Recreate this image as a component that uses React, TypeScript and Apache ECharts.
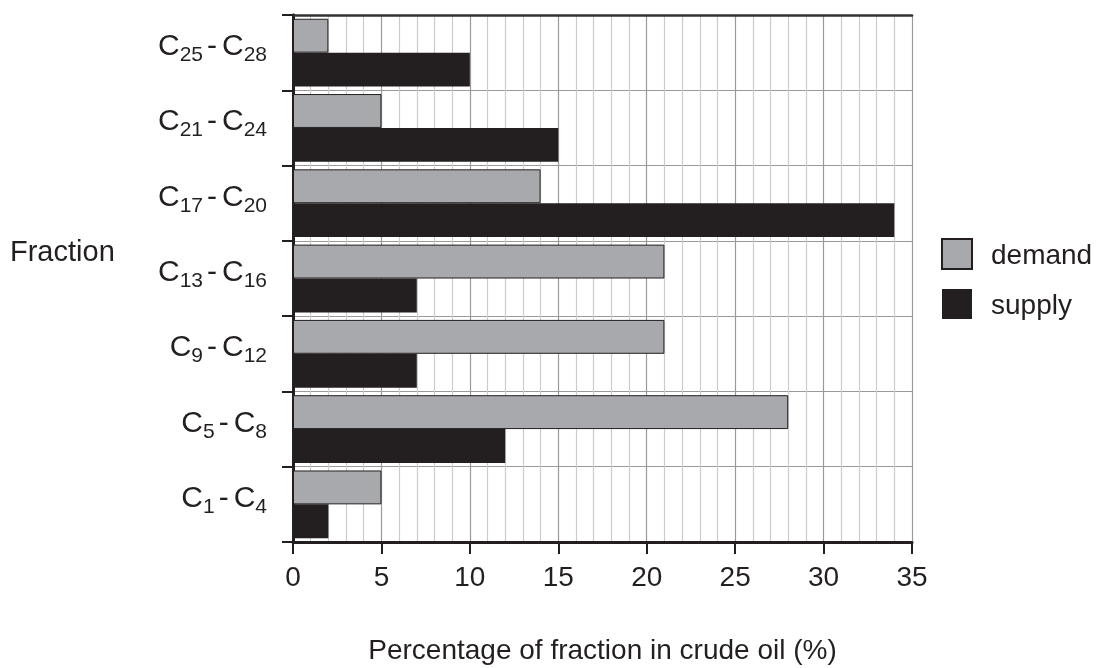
import React, { useEffect, useRef } from "react";
import * as echarts from "echarts";

const categories = ["C1-C4", "C5-C8", "C9-C12", "C13-C16", "C17-C20", "C21-C24", "C25-C28"];
const demand = [5, 28, 21, 21, 14, 5, 2];
const supply = [2, 12, 7, 7, 34, 15, 10];
const xMin = 0;
const xMax = 35;
const xInterval = 5;
const xTitle = "Percentage of fraction in crude oil (%)";
const yTitle = "Fraction";

const INK = "#231f20";
const GREY = "#a7a9ac";
const FONT = "'Liberation Sans', Arial, sans-serif";

export default function App() {
  const ref = useRef<HTMLDivElement>(null);
  useEffect(() => {
    if (!ref.current) return;
    const chart = echarts.init(ref.current, null, { renderer: "svg" });
    chart.setOption({
      animation: false,
      textStyle: { fontFamily: FONT },
      grid: { left: 293, right: 187, top: 15, bottom: 123 },
      legend: {
        orient: "vertical",
        left: 941,
        top: 238,
        itemWidth: 30,
        itemHeight: 30,
        itemGap: 19,
        padding: 0,
        icon: "rect",
        data: ["demand", "supply"],
        textStyle: { fontSize: 28, color: INK, fontFamily: FONT, padding: [0, 0, 0, 14] },
      },
      xAxis: [
        {
          type: "value",
          min: xMin,
          max: xMax,
          interval: xInterval,
          name: xTitle,
          nameLocation: "middle",
          nameGap: 93,
          nameTextStyle: { fontSize: 28, color: INK, fontFamily: FONT },
          axisLine: { show: true, lineStyle: { color: INK, width: 3 } },
          axisTick: { show: true, length: 12, lineStyle: { color: INK, width: 2 } },
          axisLabel: { fontSize: 28, color: INK, margin: 20, fontFamily: FONT },
          splitLine: { show: true, lineStyle: { color: "#9a9a9a", width: 1.2 } },
          minorTick: { show: false, splitNumber: 5 },
          minorSplitLine: { show: true, lineStyle: { color: "#cccccc", width: 1.2 } },
        },
        {
          type: "value",
          position: "top",
          min: xMin,
          max: xMax,
          axisLine: { show: true, lineStyle: { color: "#333333", width: 2.5 } },
          axisTick: { show: false },
          axisLabel: { show: false },
          splitLine: { show: false },
        },
      ],
      yAxis: [
        {
          type: "category",
          data: categories,
          axisLine: { show: true, lineStyle: { color: INK, width: 3 } },
          axisTick: { show: true, length: 11, lineStyle: { color: INK, width: 2 } },
          splitLine: { show: true, lineStyle: { color: "#9a9a9a", width: 1.2 } },
          axisLabel: {
            margin: 26,
            fontSize: 30,
            color: INK,
            fontFamily: FONT,
            padding: [0, 0, 16, 0],
            formatter: (v: string) => {
              const [a, b] = v.split("-");
              return "C{s|" + a.slice(1) + "}{h|-}C{s|" + b.slice(1) + "}";
            },
            rich: {
              s: { fontSize: 21, color: INK, fontFamily: FONT, padding: [18, 0, 0, 0] },
              h: { fontSize: 30, color: INK, fontFamily: FONT, padding: [0, 5, 0, 4] },
            },
          },
        },
        {
          type: "value",
          position: "right",
          min: 0,
          max: 1,
          axisLine: { show: true, lineStyle: { color: INK, width: 3 } },
          axisTick: { show: false },
          axisLabel: { show: false },
          splitLine: { show: false },
        },
      ],
      graphic: [
        {
          type: "text",
          left: 10,
          top: 236,
          style: { text: yTitle, fontSize: 29, fill: INK, fontFamily: FONT },
        },
      ],
      series: [
        {
          name: "demand",
          type: "bar",
          data: demand,
          barGap: "0%",
          barCategoryGap: "10%",
          itemStyle: { color: GREY, borderColor: INK, borderWidth: 1 },
        },
        {
          name: "supply",
          type: "bar",
          data: supply,
          barGap: "0%",
          barCategoryGap: "10%",
          itemStyle: { color: INK },
        },
      ],
    });
    return () => chart.dispose();
  }, []);
  return <div ref={ref} style={{ position: "fixed", left: 0, top: 0, width: 1099, height: 668 }} />;
}
